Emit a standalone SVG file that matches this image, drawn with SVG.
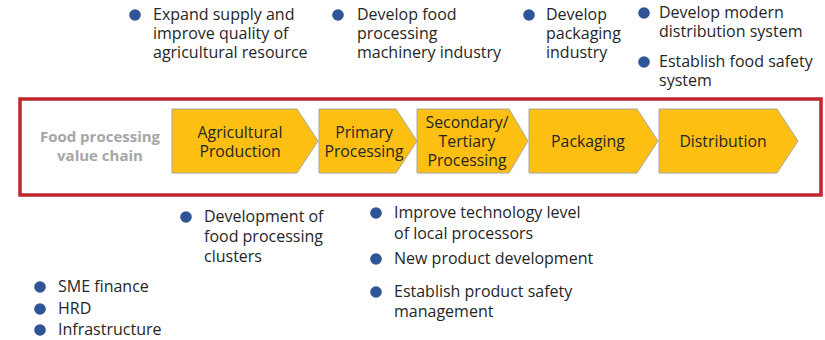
<svg xmlns="http://www.w3.org/2000/svg" width="825" height="340" viewBox="0 0 825 340">
<style>
.t{font-family:"Open Sans","Liberation Sans",sans-serif;font-size:16px;fill:#262626}
.c{font-family:"Open Sans","Liberation Sans",sans-serif;font-size:15.8px;fill:#262626;text-anchor:middle}
.g{font-family:"Open Sans","Liberation Sans",sans-serif;font-size:15px;font-weight:bold;fill:#a6a6a6;text-anchor:middle}
.b{fill:#2f5597}
.ch{fill:#fcbf12;stroke:#a6a6a6;stroke-width:1}
</style>
<rect x="20" y="99" width="801" height="96" fill="#fff" stroke="#c0262d" stroke-width="3.5"/>
<g id="label"><text class="g" x="100" y="142">Food processing</text><text class="g" x="100" y="161">value chain</text></g>
<g id="agri"><polygon class="ch" points="172,109 297,109 318,141 297,173 172,173"/><text class="c" x="240" y="138">Agricultural</text><text class="c" x="240" y="157">Production</text></g>
<g id="primary"><polygon class="ch" points="319,109 396,109 417,141 396,173 319,173"/><text class="c" x="364" y="138">Primary</text><text class="c" x="364" y="157">Processing</text></g>
<g id="secondary"><polygon class="ch" points="417,109 509,109 528,141 509,173 417,173"/><text class="c" x="467" y="128">Secondary/</text><text class="c" x="467" y="147">Tertiary</text><text class="c" x="467" y="166">Processing</text></g>
<g id="packaging"><polygon class="ch" points="529,109 637,109 658,141 637,173 529,173"/><text class="c" x="588" y="147">Packaging</text></g>
<g id="distribution"><polygon class="ch" points="659,109 777,109 798,141 777,173 659,173"/><text class="c" x="723" y="147">Distribution</text></g>
<g id="top1"><circle class="b" cx="135" cy="15" r="5.8"/><text class="t" x="153" y="20">Expand supply and</text><text class="t" x="153" y="39">improve quality of</text><text class="t" x="153" y="58">agricultural resource</text></g>
<g id="top2"><circle class="b" cx="338" cy="15" r="5.8"/><text class="t" x="357" y="20">Develop food</text><text class="t" x="357" y="39">processing</text><text class="t" x="357" y="58">machinery industry</text></g>
<g id="top3"><circle class="b" cx="529" cy="15" r="5.8"/><text class="t" x="546" y="20">Develop</text><text class="t" x="546" y="39">packaging</text><text class="t" x="546" y="58">industry</text></g>
<g id="top4"><circle class="b" cx="644" cy="13" r="5.8"/><text class="t" x="659" y="18">Develop modern</text><text class="t" x="659" y="37">distribution system</text></g>
<g id="top5"><circle class="b" cx="644" cy="62" r="5.8"/><text class="t" x="659" y="67">Establish food safety</text><text class="t" x="659" y="86">system</text></g>
<g id="bot1"><circle class="b" cx="186" cy="217" r="5.8"/><text class="t" x="204" y="222">Development of</text><text class="t" x="204" y="242">food processing</text><text class="t" x="204" y="262">clusters</text></g>
<g id="bot2"><circle class="b" cx="376" cy="213" r="5.8"/><text class="t" x="394" y="218">Improve technology level</text><text class="t" x="394" y="239">of local processors</text></g>
<g id="bot3"><circle class="b" cx="376" cy="259" r="5.8"/><text class="t" x="394" y="264">New product development</text></g>
<g id="bot4"><circle class="b" cx="376" cy="292" r="5.8"/><text class="t" x="394" y="297">Establish product safety</text><text class="t" x="394" y="317">management</text></g>
<g id="left"><circle class="b" cx="40" cy="287" r="5.8"/><text class="t" x="58" y="292">SME finance</text><circle class="b" cx="40" cy="309" r="5.8"/><text class="t" x="58" y="314">HRD</text><circle class="b" cx="40" cy="330" r="5.8"/><text class="t" x="58" y="335">Infrastructure</text></g>
</svg>
